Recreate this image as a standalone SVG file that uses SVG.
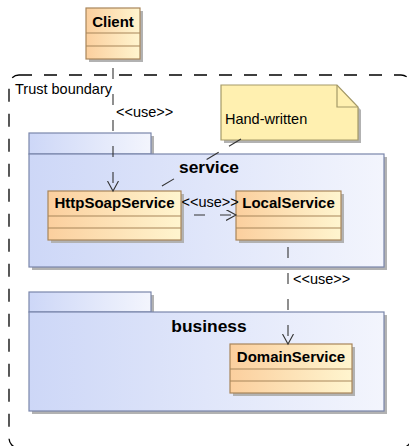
<svg xmlns="http://www.w3.org/2000/svg" width="409" height="446" viewBox="0 0 409 446">
  <defs>
    <linearGradient id="classFill" x1="0" y1="0" x2="1" y2="0">
      <stop offset="0" stop-color="#fbcf9e"/>
      <stop offset="1" stop-color="#fff5cf"/>
    </linearGradient>
    <linearGradient id="pkgFill" x1="0" y1="0" x2="1" y2="0">
      <stop offset="0" stop-color="#cdd7f7"/>
      <stop offset="1" stop-color="#f3f5fd"/>
    </linearGradient>
    <marker id="openArrow" markerUnits="userSpaceOnUse" markerWidth="12" markerHeight="12" refX="10" refY="5.5" orient="auto" viewBox="0 0 12 12">
      <path d="M0,0 L10,5.5 L0,11" fill="none" stroke="#333" stroke-width="1.1"/>
    </marker>
    <style>
      .shadow { fill: #b2b2b2; }
      .cls { fill: url(#classFill); stroke: #a8855a; stroke-width: 1.2; }
      .sep { stroke: #a8855a; stroke-width: 1.2; fill: none; }
      .pkg { fill: url(#pkgFill); stroke: #7a86ab; stroke-width: 1.2; }
      .note { fill: #fff0b0; stroke: #a59a68; stroke-width: 1.2; }
      .clsName { font-family: "Liberation Sans", Arial, sans-serif; font-weight: bold; font-size: 15px; fill: #000; text-anchor: middle; }
      .pkgName { font-family: "Liberation Sans", Arial, sans-serif; font-weight: bold; font-size: 17.4px; fill: #000; text-anchor: middle; }
      .lbl { font-family: "Liberation Sans", Arial, sans-serif; font-size: 14.5px; fill: #000; }
      .dep { fill: none; stroke: #333; stroke-width: 1.1; stroke-dasharray: 11 15; }
    </style>
  </defs>

  <!-- trust boundary -->
  <g id="trust-boundary">
    <rect x="9" y="75" width="402" height="373" rx="10" ry="10" fill="none" stroke="#000" stroke-width="1.3" stroke-dasharray="13 12"/>
    <text class="lbl" x="15" y="94">Trust boundary</text>
  </g>

  <!-- service package -->
  <g id="pkg-service">
    <rect class="shadow" x="32" y="136" width="122" height="21"/>
    <rect class="shadow" x="32" y="157" width="355" height="113"/>
    <rect class="pkg" x="29" y="133" width="122" height="21"/>
    <rect class="pkg" x="29" y="154" width="355" height="113"/>
    <text class="pkgName" x="209" y="173">service</text>
  </g>

  <!-- business package -->
  <g id="pkg-business">
    <rect class="shadow" x="32" y="295" width="122" height="20"/>
    <rect class="shadow" x="32" y="315" width="355" height="99"/>
    <rect class="pkg" x="29" y="292" width="122" height="20"/>
    <rect class="pkg" x="29" y="312" width="355" height="99"/>
    <text class="pkgName" x="209" y="332">business</text>
  </g>

  <!-- Client class -->
  <g id="cls-client">
    <rect class="shadow" x="89" y="11" width="54" height="51"/>
    <rect class="cls" x="86" y="8" width="54" height="51"/>
    <path class="sep" d="M86,33 H140 M86,46 H140"/>
    <text class="clsName" x="113" y="26.5">Client</text>
  </g>

  <!-- HttpSoapService class -->
  <g id="cls-httpsoap">
    <rect class="shadow" x="51" y="194" width="133" height="49"/>
    <rect class="cls" x="48" y="191" width="133" height="49"/>
    <path class="sep" d="M48,216 H181 M48,228 H181"/>
    <text class="clsName" x="114.5" y="208">HttpSoapService</text>
  </g>

  <!-- LocalService class -->
  <g id="cls-local">
    <rect class="shadow" x="239" y="194" width="105" height="49"/>
    <rect class="cls" x="236" y="191" width="105" height="49"/>
    <path class="sep" d="M236,216 H341 M236,228 H341"/>
    <text class="clsName" x="288.5" y="208">LocalService</text>
  </g>

  <!-- DomainService class -->
  <g id="cls-domain">
    <rect class="shadow" x="233" y="347" width="122" height="49"/>
    <rect class="cls" x="230" y="344" width="122" height="49"/>
    <path class="sep" d="M230,369 H352 M230,381 H352"/>
    <text class="clsName" x="291" y="362">DomainService</text>
  </g>

  <!-- note -->
  <g id="note-handwritten">
    <path class="shadow" d="M224,88 H340 L361,110 V143 H224 Z"/>
    <path class="note" d="M221,85 H337 L358,107 V140 H221 Z"/>
    <path d="M337,85 V107 H358" fill="none" stroke="#a59a68" stroke-width="1.2"/>
    <text class="lbl" x="225" y="124">Hand-written</text>
  </g>

  <!-- connectors -->
  <g id="connectors">
    <path class="dep" d="M113,59 V191" stroke-dashoffset="17" marker-end="url(#openArrow)"/>
    <text class="lbl" x="116" y="117">&lt;&lt;use&gt;&gt;</text>

    <path class="dep" d="M181,215 H236" stroke-dasharray="12 15" stroke-dashoffset="13" marker-end="url(#openArrow)"/>
    <text class="lbl" x="181.5" y="207">&lt;&lt;use&gt;&gt;</text>

    <path class="dep" d="M288,240 V344" stroke-dasharray="12 15" stroke-dashoffset="19" marker-end="url(#openArrow)"/>
    <text class="lbl" x="293" y="284">&lt;&lt;use&gt;&gt;</text>

    <path d="M241,139 L157,189" fill="none" stroke="#333" stroke-width="1.1" stroke-dasharray="14 12 14 38 14 100"/>
  </g>
</svg>
